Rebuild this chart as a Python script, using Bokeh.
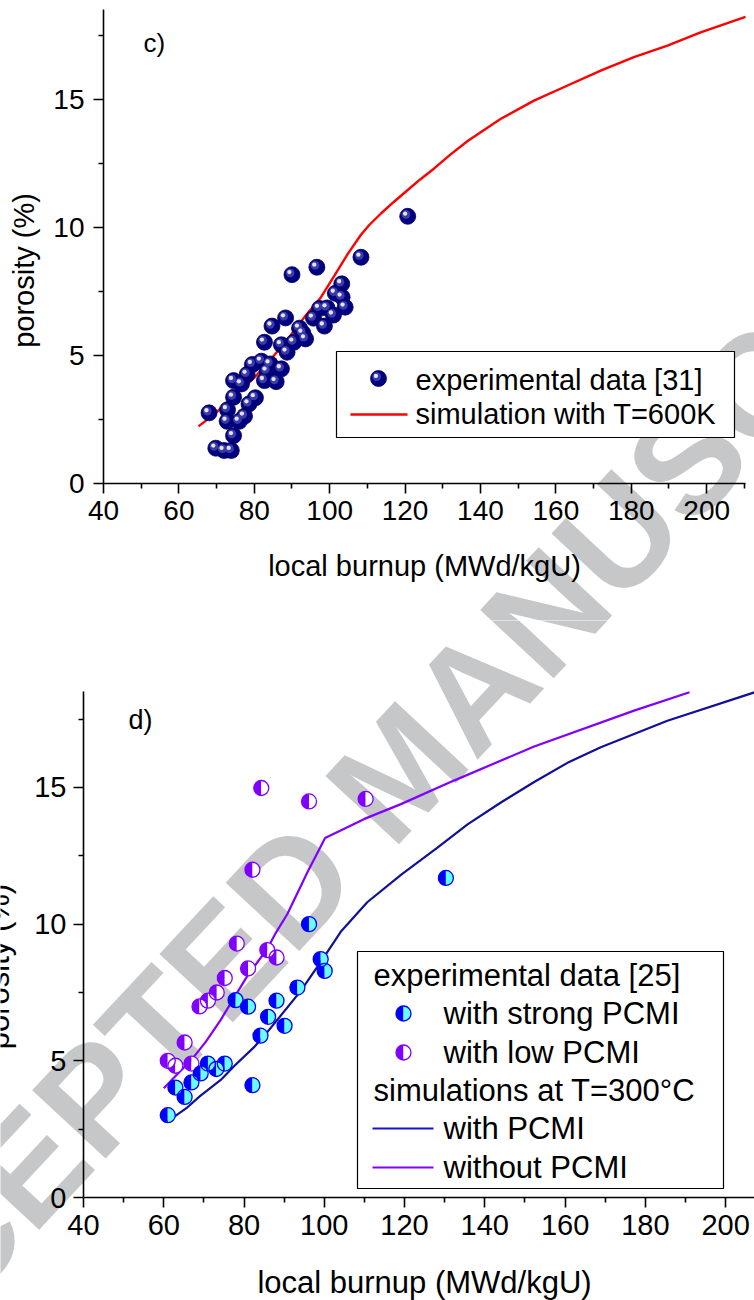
import numpy as np
from bokeh.plotting import figure
from bokeh.layouts import column
from bokeh.models import Range1d, FixedTicker, Label, LinearAxis
from bokeh.embed import file_html
from bokeh.resources import INLINE

# ---------------- panel c): T = 600 K ----------------
c_exp_burnup = [120.7, 108.3, 96.6, 90.0, 103.2, 101.5, 103.3, 104.1, 99.3, 97.3,
                101.0, 95.7, 98.6, 88.3, 84.7, 92.0, 92.9, 93.6, 90.5, 82.7,
                87.2, 88.7, 81.9, 79.5, 84.2, 87.2, 83.4, 78.1, 74.5, 82.7,
                85.8, 76.6, 80.3, 74.5, 78.6, 68.0, 72.9, 77.4, 72.8, 76.0,
                74.5, 69.8, 72.0, 73.9]
c_exp_porosity = [10.44, 8.84, 8.45, 8.16, 7.80, 7.43, 7.28, 6.89, 6.86, 6.84,
                  6.58, 6.46, 6.15, 6.47, 6.15, 6.07, 5.87, 5.65, 5.52, 5.52,
                  5.42, 5.13, 4.78, 4.65, 4.67, 4.48, 4.39, 4.26, 4.02, 4.02,
                  3.98, 3.89, 3.35, 3.37, 3.11, 2.76, 2.88, 2.63, 2.43, 2.43,
                  1.87, 1.38, 1.29, 1.29]
c_sim_burnup = [65.2, 69.5, 74.8, 80.1, 84.5, 88.9, 93.3, 97.7, 101.3, 104.8,
                108.3, 110.5, 113.6, 117.0, 120.0, 124.0, 127.8, 132.0, 136.6,
                145.4, 154.2, 163.1, 171.9, 180.7, 189.6, 198.4, 210.3]
c_sim_porosity = [2.23, 2.72, 3.44, 4.15, 4.87, 5.65, 6.50, 7.28, 8.13, 8.97,
                  9.72, 10.10, 10.55, 11.00, 11.38, 11.88, 12.32, 12.85, 13.38,
                  14.25, 14.96, 15.55, 16.13, 16.66, 17.11, 17.63, 18.23]

# ---------------- panel d): T = 300 °C ----------------
d_strong_burnup = [61.0, 62.9, 65.2, 66.9, 69.2, 71.0, 73.1, 75.2, 77.9, 81.0,
                   82.1, 84.1, 86.0, 88.1, 90.1, 93.3, 96.2, 99.1, 100.1, 130.3]
d_strong_porosity = [3.01, 4.02, 3.68, 4.21, 4.54, 4.90, 4.70, 4.90, 7.22, 6.98,
                     4.11, 5.92, 6.61, 7.20, 6.28, 7.68, 10.0, 8.72, 8.29, 11.69]
d_low_burnup = [61.0, 62.9, 65.2, 66.9, 68.9, 71.0, 73.2, 75.2, 78.2, 81.0,
                82.1, 84.3, 85.8, 88.1, 96.2, 110.3]
d_low_porosity = [5.00, 4.82, 5.67, 4.90, 6.99, 7.20, 7.50, 8.03, 9.29, 8.38,
                  11.99, 14.98, 9.05, 8.78, 14.49, 14.58]
d_pcmi_burnup = [60.8, 65.9, 69.1, 74.2, 77.5, 82.5, 85.8, 88.3, 94.1, 99.5,
                 104.1, 110.7, 119.1, 128.2, 135.7, 144.0, 152.3, 160.6, 168.9,
                 185.5, 207.2]
d_pcmi_porosity = [2.77, 3.30, 3.72, 4.30, 4.80, 5.50, 6.05, 6.50, 7.55, 8.70,
                   9.72, 10.80, 11.80, 12.80, 13.65, 14.45, 15.20, 15.90, 16.47,
                   17.44, 18.48]
d_nopcmi_burnup = [60.0, 63.3, 66.7, 70.5, 74.2, 77.5, 80.8, 85.8, 88.0, 90.8,
                   95.8, 100.2, 110.0, 119.1, 132.3, 152.3, 177.2, 191.0]
d_nopcmi_porosity = [4.00, 4.50, 5.00, 5.70, 6.50, 7.30, 8.10, 9.10, 9.70, 10.37,
                     11.90, 13.15, 13.85, 14.39, 15.25, 16.50, 17.81, 18.48]

# ---------------- ticks ----------------
x_major = [40, 60, 80, 100, 120, 140, 160, 180, 200]
x_minor = [50, 70, 90, 110, 130, 150, 170, 190, 210]
y_major = [0, 5, 10, 15]
y_minor = [2.5, 7.5, 12.5, 17.5]

FONT = "Liberation Sans"
PAGE_W = 754

NAVY = "#000080"
RED = "#ff0000"
BLUE = "#0000ff"
CYAN = "#66ffff"
PURPLE = "#8000ff"
DARKBLUE = "#101099"
WATERMARK = "#c6c7c9"


class Frame:
    """Axes box placed on the page (pixels) together with its data limits."""

    def __init__(self, fig_top, fig_h, left, top, width, height, x0, x1, y0, y1):
        self.fig_top, self.fig_h = fig_top, fig_h
        self.left, self.top, self.width, self.height = left, top, width, height
        self.x0, self.x1, self.y0, self.y1 = x0, x1, y0, y1

    def x(self, px):
        return self.x0 + (px - self.left) * (self.x1 - self.x0) / self.width

    def y(self, py):
        return self.y0 + (self.top + self.height - py) * (self.y1 - self.y0) / self.height

    def dx(self, npx):
        return npx * (self.x1 - self.x0) / self.width

    def dy(self, npx):
        return npx * (self.y1 - self.y0) / self.height


def make_figure(fr, tick_size, ylab_standoff):
    # the canvas is the whole frame; the axes sit at fixed data positions
    p = figure(width=PAGE_W, height=fr.fig_h,
               x_range=Range1d(fr.x(0), fr.x(PAGE_W)),
               y_range=Range1d(fr.y(fr.fig_top + fr.fig_h), fr.y(fr.fig_top)),
               x_axis_type=None, y_axis_type=None, min_border=0,
               output_backend="svg", toolbar_location=None,
               background_fill_color="white", border_fill_color="white")
    p.outline_line_color = None
    xaxis = LinearAxis(fixed_location=fr.y0, bounds=(fr.x0, fr.x1),
                       ticker=FixedTicker(ticks=x_major, minor_ticks=x_minor))
    yaxis = LinearAxis(fixed_location=fr.x0, bounds=(fr.y0, fr.y1),
                       ticker=FixedTicker(ticks=y_major, minor_ticks=y_minor))
    for ax in (xaxis, yaxis):
        ax.axis_line_width = 1.6
        ax.axis_line_color = "black"
        ax.major_tick_line_width = 1.6
        ax.minor_tick_line_width = 1.6
        ax.major_tick_out = 10
        ax.major_tick_in = 0
        ax.minor_tick_out = 5
        ax.minor_tick_in = 0
        ax.major_label_text_font = FONT
        ax.major_label_text_font_size = tick_size
        ax.major_label_text_color = "black"
    xaxis.major_label_standoff = 7
    yaxis.major_label_standoff = ylab_standoff
    p.add_layout(xaxis, "below")
    p.add_layout(yaxis, "left")
    return p


def text(p, fr, px, py, s, size, align="left", baseline="middle", angle=0.0,
         color="black", style="normal", level="annotation"):
    p.add_layout(Label(x=fr.x(px), y=fr.y(py), text=s, text_font=FONT,
                       text_font_size=size, text_align=align,
                       text_baseline=baseline, angle=angle, text_color=color,
                       text_font_style=style, level=level))


def watermark(p, fr):
    # diagonal stamp across both panels; each canvas shows its own part
    text(p, fr, 399, 769, "ACCEPTED MANUSCRIPT", "146px", align="center",
         angle=np.deg2rad(47), color=WATERMARK, style="bold", level="underlay")


def spheres(p, fr, xs, ys, size=16):
    xs = np.asarray(xs, float)
    ys = np.asarray(ys, float)
    p.scatter(xs, ys, size=size, fill_color=NAVY, line_color="#00005a", line_width=0.8)
    p.scatter(xs - fr.dx(1.8), ys + fr.dy(1.8), size=size * 0.55,
              fill_color="#3b3ba6", line_color=None)
    p.scatter(xs - fr.dx(2.6), ys + fr.dy(2.6), size=size * 0.27,
              fill_color="#e4e4ff", line_color=None)


def half_discs(p, xs, ys, left_color, right_color, radius=7.5):
    p.wedge(xs, ys, radius=radius, radius_units="screen",
            start_angle=np.pi / 2, end_angle=3 * np.pi / 2,
            fill_color=left_color, line_color=None)
    p.wedge(xs, ys, radius=radius, radius_units="screen",
            start_angle=-np.pi / 2, end_angle=np.pi / 2,
            fill_color=right_color, line_color=None)
    p.scatter(xs, ys, size=2 * radius, fill_color=None,
              line_color=left_color, line_width=1.3)


def legend_box(p, fr, left, top, right, bottom):
    p.quad(left=[fr.x(left)], right=[fr.x(right)], top=[fr.y(top)],
           bottom=[fr.y(bottom)], fill_color="white", line_color="black",
           line_width=1.2)


# ================= panel c) =================
fc = Frame(fig_top=0, fig_h=620, left=103, top=9, width=642, height=474,
           x0=40, x1=210.3, y0=0, y1=18.52)
pc = make_figure(fc, "28px", 9)
watermark(pc, fc)

pc.line(c_sim_burnup, c_sim_porosity, line_color=RED, line_width=2.4)
spheres(pc, fc, c_exp_burnup, c_exp_porosity)

legend_box(pc, fc, 336, 351, 734, 437)
spheres(pc, fc, [fc.x(378)], [fc.y(378)])
pc.line([fc.x(350), fc.x(407)], [fc.y(414)] * 2, line_color=RED, line_width=2.4)
text(pc, fc, 415, 379, "experimental data [31]", "29px")
text(pc, fc, 415, 413, "simulation with T=600K", "29px")

text(pc, fc, 143, 42, "c)", "26px")
text(pc, fc, 23, 270, "porosity (%)", "29px", align="center", angle=np.pi / 2)
text(pc, fc, 424, 565, "local burnup (MWd/kgU)", "29px", align="center")

# ================= panel d) =================
fd = Frame(fig_top=620, fig_h=680, left=83, top=691, width=671, height=506,
           x0=40, x1=207.2, y0=0, y1=18.51)
pd_ = make_figure(fd, "29px", 7)
watermark(pd_, fd)

pd_.line(d_pcmi_burnup, d_pcmi_porosity, line_color=DARKBLUE, line_width=2.2)
pd_.line(d_nopcmi_burnup, d_nopcmi_porosity, line_color=PURPLE, line_width=2.2)
half_discs(pd_, d_low_burnup, d_low_porosity, PURPLE, "white")
half_discs(pd_, d_strong_burnup, d_strong_porosity, BLUE, CYAN)

legend_box(pd_, fd, 357, 951, 723, 1188)
text(pd_, fd, 373, 975, "experimental data [25]", "31px")
half_discs(pd_, [fd.x(403)], [fd.y(1013)], BLUE, CYAN)
text(pd_, fd, 443, 1013, "with strong PCMI", "31px")
half_discs(pd_, [fd.x(403)], [fd.y(1052)], PURPLE, "white")
text(pd_, fd, 443, 1052, "with low PCMI", "31px")
text(pd_, fd, 373, 1090, "simulations at T=300°C", "31px")
pd_.line([fd.x(372), fd.x(433)], [fd.y(1128)] * 2, line_color="#1414d8", line_width=2.2)
text(pd_, fd, 443, 1128, "with PCMI", "31px")
pd_.line([fd.x(372), fd.x(433)], [fd.y(1167)] * 2, line_color=PURPLE, line_width=2.2)
text(pd_, fd, 443, 1167, "without PCMI", "31px")

text(pd_, fd, 128, 719, "d)", "27px")
text(pd_, fd, -2, 966, "porosity (%)", "31px", align="center", angle=np.pi / 2)
text(pd_, fd, 424, 1282, "local burnup (MWd/kgU)", "31px", align="center")

layout = column(pc, pd_, spacing=0)

with open("out.html", "w") as f:
    f.write(file_html(layout, INLINE, title="porosity vs local burnup"))
